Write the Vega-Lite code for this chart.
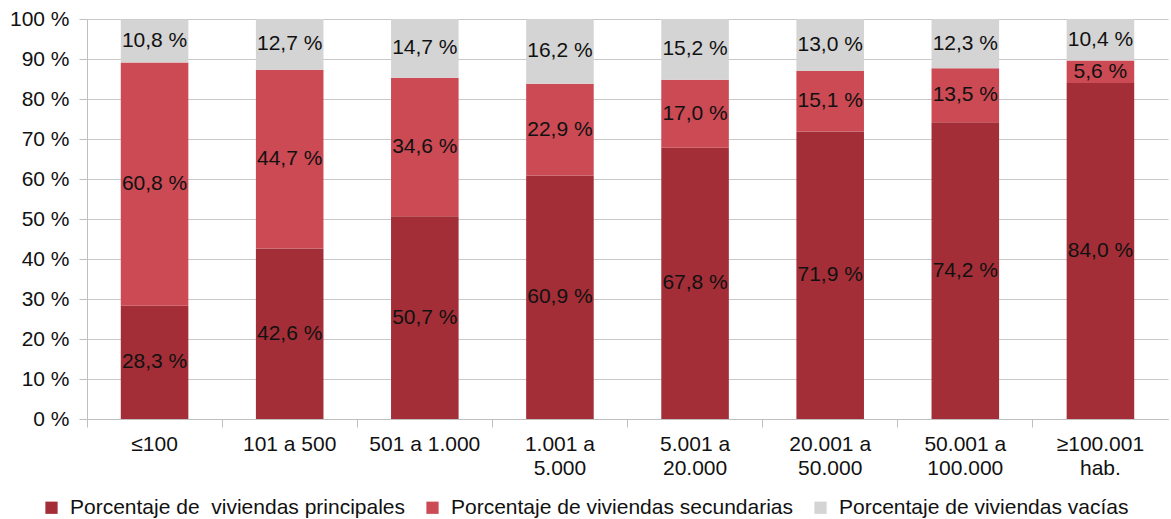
{
  "$schema": "https://vega.github.io/schema/vega-lite/v6.json",
  "width": 1081,
  "height": 400,
  "autosize": {"type": "none"},
  "padding": {"left": 87, "top": 19, "right": 3, "bottom": 100},
  "background": "white",
  "config": {
    "view": {"stroke": null},
    "font": "Liberation Sans",
    "locale": {"number": {"decimal": ",", "thousands": ".", "grouping": [3], "currency": ["", " €"], "percent": " %"}}
  },
  "data": {"values": [
    {"tramo": "≤100", "tipo": "Porcentaje de  viviendas principales", "valor": 0.283},
    {"tramo": "≤100", "tipo": "Porcentaje de viviendas secundarias", "valor": 0.608},
    {"tramo": "≤100", "tipo": "Porcentaje de viviendas vacías", "valor": 0.108},
    {"tramo": "101 a 500", "tipo": "Porcentaje de  viviendas principales", "valor": 0.426},
    {"tramo": "101 a 500", "tipo": "Porcentaje de viviendas secundarias", "valor": 0.447},
    {"tramo": "101 a 500", "tipo": "Porcentaje de viviendas vacías", "valor": 0.127},
    {"tramo": "501 a 1.000", "tipo": "Porcentaje de  viviendas principales", "valor": 0.507},
    {"tramo": "501 a 1.000", "tipo": "Porcentaje de viviendas secundarias", "valor": 0.346},
    {"tramo": "501 a 1.000", "tipo": "Porcentaje de viviendas vacías", "valor": 0.147},
    {"tramo": "1.001 a|5.000", "tipo": "Porcentaje de  viviendas principales", "valor": 0.609},
    {"tramo": "1.001 a|5.000", "tipo": "Porcentaje de viviendas secundarias", "valor": 0.229},
    {"tramo": "1.001 a|5.000", "tipo": "Porcentaje de viviendas vacías", "valor": 0.162},
    {"tramo": "5.001 a|20.000", "tipo": "Porcentaje de  viviendas principales", "valor": 0.678},
    {"tramo": "5.001 a|20.000", "tipo": "Porcentaje de viviendas secundarias", "valor": 0.170},
    {"tramo": "5.001 a|20.000", "tipo": "Porcentaje de viviendas vacías", "valor": 0.152},
    {"tramo": "20.001 a|50.000", "tipo": "Porcentaje de  viviendas principales", "valor": 0.719},
    {"tramo": "20.001 a|50.000", "tipo": "Porcentaje de viviendas secundarias", "valor": 0.151},
    {"tramo": "20.001 a|50.000", "tipo": "Porcentaje de viviendas vacías", "valor": 0.130},
    {"tramo": "50.001 a|100.000", "tipo": "Porcentaje de  viviendas principales", "valor": 0.742},
    {"tramo": "50.001 a|100.000", "tipo": "Porcentaje de viviendas secundarias", "valor": 0.135},
    {"tramo": "50.001 a|100.000", "tipo": "Porcentaje de viviendas vacías", "valor": 0.123},
    {"tramo": "≥100.001|hab.", "tipo": "Porcentaje de  viviendas principales", "valor": 0.840},
    {"tramo": "≥100.001|hab.", "tipo": "Porcentaje de viviendas secundarias", "valor": 0.056},
    {"tramo": "≥100.001|hab.", "tipo": "Porcentaje de viviendas vacías", "valor": 0.104}
  ]},
  "encoding": {
    "x": {
      "field": "tramo", "type": "nominal", "sort": null,
      "scale": {"paddingInner": 0.5, "paddingOuter": 0.25}
    }
  },
  "layer": [
    {
      "mark": {"type": "bar"},
      "encoding": {
        "x": {
          "field": "tramo", "type": "nominal", "sort": null,
          "axis": {
            "title": null, "orient": "bottom", "labelAngle": 0, "ticks": false, "domain": true,
            "domainColor": "#bfbfbf", "labelFontSize": 21, "labelColor": "#111111",
            "labelPadding": 14, "labelLineHeight": 24, "labelBaseline": "top",
            "labelExpr": "split(datum.label, '|')"
          }
        },
        "y": {
          "field": "valor", "type": "quantitative", "stack": "zero",
          "scale": {"domain": [0, 1], "nice": false},
          "axis": {
            "title": null, "format": ".0%", "values": [0, 0.1, 0.2, 0.3, 0.4, 0.5, 0.6, 0.7, 0.8, 0.9, 1],
            "labelOverlap": false, "labelFlush": false,
            "grid": true, "gridColor": "#c8c8c8", "domainColor": "#bfbfbf", "tickColor": "#bfbfbf",
            "tickSize": 8, "labelFontSize": 21, "labelColor": "#111111", "labelPadding": 10
          }
        },
        "color": {
          "field": "tipo", "type": "nominal",
          "scale": {
            "domain": ["Porcentaje de  viviendas principales", "Porcentaje de viviendas secundarias", "Porcentaje de viviendas vacías"],
            "range": ["#a42e37", "#cb4a54", "#d4d4d4"]
          },
          "legend": {
            "title": null, "orient": "none", "direction": "horizontal",
            "legendX": -46, "legendY": 478,
            "symbolType": "square", "symbolSize": 150, "symbolStrokeWidth": 0,
            "labelFontSize": 21, "labelColor": "#111111", "labelOffset": 8, "columnPadding": 16,
            "labelLimit": 500,
            "labelExpr": "replace(datum.label, 'de  v', 'de\u00a0 v')"
          }
        },
        "order": {"field": "tipo", "sort": "ascending"}
      }
    },
    {
      "mark": {"type": "text", "fontSize": 21, "color": "#111111", "baseline": "middle"},
      "encoding": {
        "x": {
          "field": "tramo", "type": "nominal", "sort": null,
          "axis": {
            "title": null, "orient": "bottom", "labels": false, "domain": false, "ticks": true,
            "tickColor": "#bfbfbf", "tickSize": 8, "bandPosition": -0.5, "grid": false
          }
        },
        "y": {
          "field": "valor", "type": "quantitative", "stack": "zero", "bandPosition": 0.5,
          "axis": {
            "title": null, "format": ".0%", "values": [0, 0.1, 0.2, 0.3, 0.4, 0.5, 0.6, 0.7, 0.8, 0.9, 1],
            "labelOverlap": false, "labelFlush": false,
            "grid": true, "gridColor": "#c8c8c8", "domainColor": "#bfbfbf", "tickColor": "#bfbfbf",
            "tickSize": 8, "labelFontSize": 21, "labelColor": "#111111", "labelPadding": 10
          }
        },
        "detail": {"field": "tipo"},
        "order": {"field": "tipo", "sort": "ascending"},
        "text": {"field": "valor", "type": "quantitative", "format": ".1%"}
      }
    }
  ],
  "resolve": {"axis": {"x": "independent"}}
}
